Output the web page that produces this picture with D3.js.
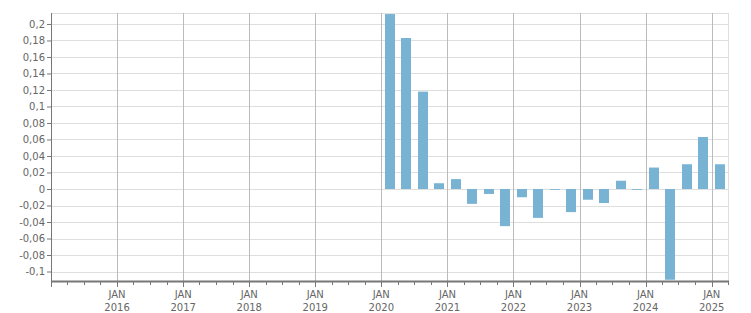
<!DOCTYPE html>
<html>
<head>
<meta charset="utf-8">
<script src="https://cdn.jsdelivr.net/npm/d3@7"></script>
<style>
  body { margin: 0; background: #fff; }
  text { font-family: "DejaVu Sans", Verdana, sans-serif; font-size: 10px; fill: #666; }
</style>
</head>
<body>
<svg id="chart"></svg>
<script>
const width = 751;
const height = 313;
const margin = { top: 13, right: 23, bottom: 32, left: 51 };

// quarterly data
const quarters = ["2020-01", "2020-04", "2020-07", "2020-10",
                  "2021-01", "2021-04", "2021-07", "2021-10",
                  "2022-01", "2022-04", "2022-07", "2022-10",
                  "2023-01", "2023-04", "2023-07", "2023-10",
                  "2024-01", "2024-04", "2024-07", "2024-10",
                  "2025-01"];
const values = [0.212, 0.183, 0.118, 0.007,
                0.012, -0.018, -0.006, -0.045,
                -0.010, -0.035, -0.001, -0.028,
                -0.013, -0.017, 0.010, -0.001,
                0.026, -0.110, 0.030, 0.063,
                0.030];
const yTicks = [-0.1, -0.08, -0.06, -0.04, -0.02, 0, 0.02, 0.04, 0.06, 0.08, 0.1, 0.12, 0.14, 0.16, 0.18, 0.2];
const yearTicks = [2016, 2017, 2018, 2019, 2020, 2021, 2022, 2023, 2024, 2025];

const parse = d3.timeParse("%Y-%m");
const data = quarters.map((q, i) => ({ date: parse(q), value: values[i] }));

const innerW = width - margin.left - margin.right;
const innerH = height - margin.top - margin.bottom;

const svg = d3.select("#chart")
    .attr("width", width)
    .attr("height", height);

const g = svg.append("g")
    .attr("transform", `translate(${margin.left},${margin.top})`);

const x = d3.scaleTime()
    .domain([new Date(2015, 0, 1), new Date(2025, 3, 1)])
    .range([0, innerW]);

const y = d3.scaleLinear()
    .domain([-0.1115, 0.2133])
    .range([innerH, 0]);

const fmt = d3.formatLocale({ decimal: ",", thousands: ".", grouping: [3], currency: ["", ""], minus: "-" }).format(".2~f");

// horizontal grid
g.append("g")
    .selectAll("line")
    .data(yTicks)
    .enter().append("line")
    .attr("x1", 0)
    .attr("x2", innerW)
    .attr("y1", d => Math.round(y(d)) + 0.5)
    .attr("y2", d => Math.round(y(d)) + 0.5)
    .attr("stroke", "#dedede");

// top and right border
g.append("line")
    .attr("x1", 0).attr("x2", innerW)
    .attr("y1", 0.5).attr("y2", 0.5)
    .attr("stroke", "#dedede");
g.append("line")
    .attr("x1", innerW + 0.5).attr("x2", innerW + 0.5)
    .attr("y1", 0).attr("y2", innerH)
    .attr("stroke", "#dedede");

// vertical year grid
const yearDates = yearTicks.map(yr => new Date(yr, 0, 1));
g.append("g")
    .selectAll("line")
    .data(yearDates)
    .enter().append("line")
    .attr("x1", d => Math.round(x(d)) + 0.5)
    .attr("x2", d => Math.round(x(d)) + 0.5)
    .attr("y1", 0)
    .attr("y2", innerH)
    .attr("stroke", "#bbb");

// bars
g.append("clipPath").attr("id", "clip")
    .append("rect").attr("width", innerW).attr("height", innerH);

const barW = 10;
g.append("g")
    .attr("clip-path", "url(#clip)")
    .selectAll("rect")
    .data(data)
    .enter().append("rect")
    .attr("x", d => {
        const next = d3.timeMonth.offset(d.date, 3);
        return Math.round((x(d.date) + x(next)) / 2 - barW / 2);
    })
    .attr("width", barW)
    .attr("y", d => y(Math.max(0, d.value)))
    .attr("height", d => Math.abs(y(d.value) - y(0)))
    .attr("fill", "#79b3d4");

// y axis
const yAxis = g.append("g")
    .call(d3.axisLeft(y).tickValues(yTicks).tickFormat(fmt).tickSize(4).tickPadding(2));
yAxis.select(".domain").attr("stroke", "#777").attr("d", `M0.5,0V${innerH}`);
yAxis.selectAll(".tick line").attr("stroke", "#777");
yAxis.selectAll(".tick text").attr("fill", "#666").style("font-family", null).attr("font-size", null);

// x axis: quarterly minor ticks
const xAxisG = g.append("g").attr("transform", `translate(0,${innerH})`);
const minor = x.ticks(d3.timeMonth.every(3));
xAxisG.selectAll("line.minor")
    .data(minor)
    .enter().append("line")
    .attr("class", "minor")
    .attr("x1", d => Math.round(x(d)) + 0.5)
    .attr("x2", d => Math.round(x(d)) + 0.5)
    .attr("y1", 0)
    .attr("y2", d => d.getMonth() === 0 ? 6 : 4)
    .attr("stroke", "#777");

xAxisG.append("line")
    .attr("x1", 0).attr("x2", innerW + 1)
    .attr("y1", 0.5).attr("y2", 0.5)
    .attr("stroke", "#777")
    .attr("stroke-width", 2);

const lbl = xAxisG.selectAll("text.year")
    .data(yearDates)
    .enter().append("text")
    .attr("class", "year")
    .attr("text-anchor", "middle")
    .attr("transform", d => `translate(${x(d)},0)`);
lbl.append("tspan").attr("x", 0).attr("y", 17).text("JAN");
lbl.append("tspan").attr("x", 0).attr("y", 30).text(d => d.getFullYear());
</script>
</body>
</html>
